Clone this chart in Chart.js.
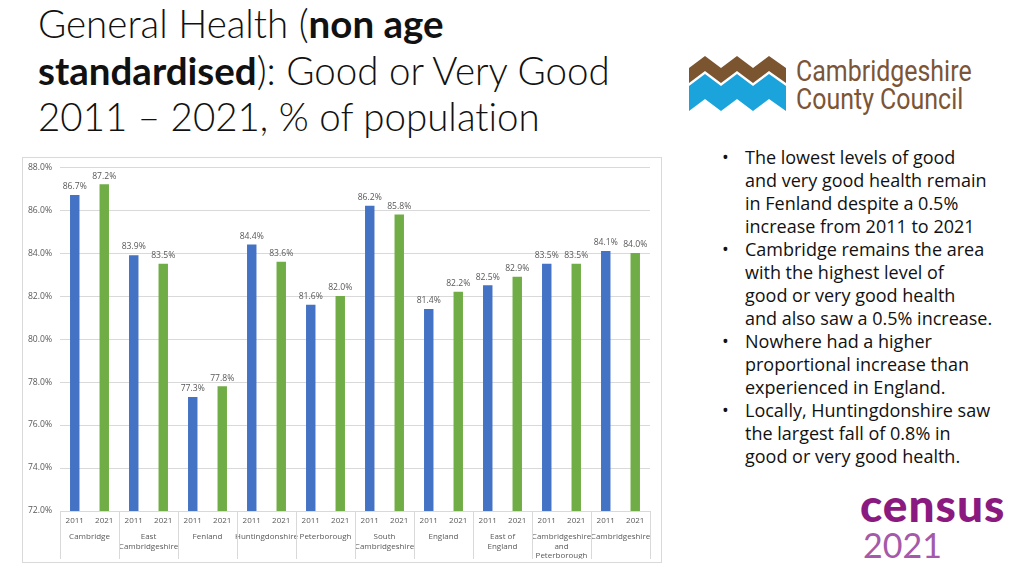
<!DOCTYPE html>
<html>
<head>
<meta charset="utf-8">
<script src="https://cdn.jsdelivr.net/npm/chart.js@4"></script>
<style>
  html, body { margin:0; padding:0; background:#fff; width:1024px; height:576px; overflow:hidden; }
  body { position:relative; font-family: Lato, "Open Sans", sans-serif; }
  #title { position:absolute; left:38px; top:0px; font-family: Lato, sans-serif; font-weight:300; font-size:38.5px; line-height:46.5px; color:#111; white-space:nowrap; font-variant-ligatures:none; }
  #title b { font-weight:700; }
  #chartBox { position:absolute; left:22px; top:157px; width:640px; height:406px; box-sizing:border-box; border:1px solid #d9d9d9; }
  #chartBox canvas { display:block; position:absolute; left:0; top:-4px; }
  #notes { position:absolute; left:722px; top:146px; margin:0; padding:0; list-style:none; font-family:"Open Sans", sans-serif; font-size:18px; line-height:23px; color:#111; }
  #notes li { position:relative; padding-left:23px; white-space:nowrap; }
  #notes li::before { content:"•"; position:absolute; left:0; top:0; }
  #logoText { position:absolute; left:796px; top:57px; font-family:Roboto, sans-serif; font-size:29px; line-height:28px; color:#7b5536; transform:scaleX(0.86); transform-origin:left top; white-space:nowrap; }
  #census { position:absolute; left:860px; top:482px; font-family:Lato, sans-serif; color:#8b1a80; }
  #census .c1 { font-size:46px; font-weight:900; line-height:46px; letter-spacing:1px; }
  #census .c2 { font-size:34px; font-weight:400; line-height:34px; color:#a45aa8; margin-left:3px; }
</style>
</head>
<body>
<div id="title">General Health (<b>non age</b><br><b>standardised</b>): Good or Very Good<br>2011 – 2021, % of population</div>

<svg style="position:absolute;left:0;top:0" width="1024" height="576">
  <polygon fill="#7b5430" points="689,68 705,56 721,68 737,56 753,68 769,56 786,68 786,83 769,71 753,83 737,71 721,83 705,71 689,83"/>
  <polygon fill="#1ba3dc" points="689,86 705,74 721,86 737,74 753,86 769,74 786,86 786,111 769,99 753,111 737,99 721,111 705,99 689,111"/>
</svg>
<div id="logoText">Cambridgeshire<br>County Council</div>

<div id="chartBox"><canvas id="c" width="638" height="408"></canvas></div>

<ul id="notes">
  <li>The lowest levels of good<br>and very good health remain<br>in Fenland despite a 0.5%<br>increase from 2011 to 2021</li>
  <li>Cambridge remains the area<br>with the highest level of<br>good or very good health<br>and also saw a 0.5% increase.</li>
  <li>Nowhere had a higher<br>proportional increase than<br>experienced in England.</li>
  <li>Locally, Huntingdonshire saw<br>the largest fall of 0.8% in<br>good or very good health.</li>
</ul>

<div id="census"><div class="c1">census</div><div class="c2">2021</div></div>

<script>
const regions = [
  "Cambridge",
  ["East", "Cambridgeshire"],
  "Fenland",
  "Huntingdonshire",
  "Peterborough",
  ["South", "Cambridgeshire"],
  "England",
  ["East of", "England"],
  ["Cambridgeshire", "and", "Peterborough"],
  "Cambridgeshire"
];
const years = ["2011", "2021"];
const values2011 = [86.7, 83.9, 77.3, 84.4, 81.6, 86.2, 81.4, 82.5, 83.5, 84.1];
const values2021 = [87.2, 83.5, 77.8, 83.6, 82.0, 85.8, 82.2, 82.9, 83.5, 84.0];
const yTicks = { min: 72, max: 88, step: 2 };

const yearLabels = [];
const data2011 = [];
const data2021 = [];
regions.forEach((r, i) => {
  yearLabels.push(years[0], years[1]);
  data2011.push(values2011[i], null);
  data2021.push(null, values2021[i]);
});

const GRID = '#d9d9d9';
const TXT = '#595959';
const FONT = { family: '"Open Sans", sans-serif', size: 8 };
const FONT_Y = { family: '"Open Sans", sans-serif', size: 8.6 };

const valueLabels = {
  id: 'valueLabels',
  afterDatasetsDraw(chart) {
    const ctx = chart.ctx;
    ctx.save();
    ctx.font = '8.6px "Open Sans", sans-serif';
    ctx.fillStyle = TXT;
    ctx.textAlign = 'center';
    ctx.textBaseline = 'bottom';
    chart.data.datasets.forEach((ds, di) => {
      const meta = chart.getDatasetMeta(di);
      meta.data.forEach((el, i) => {
        const v = ds.data[i];
        if (v === null || v === undefined) return;
        ctx.fillText(v.toFixed(1) + '%', el.x, el.y - 4);
      });
    });
    ctx.restore();
  }
};

const groupLines = {
  id: 'groupLines',
  afterDraw(chart) {
    const xs = chart.scales.x;
    const x2 = chart.scales.x2;
    const ctx = chart.ctx;
    const half = (xs.getPixelForTick(1) - xs.getPixelForTick(0)) / 2;
    ctx.save();
    ctx.strokeStyle = GRID;
    ctx.lineWidth = 1;
    for (let i = 0; i <= regions.length; i++) {
      let px;
      if (i < regions.length) px = xs.getPixelForTick(i * 2) - half;
      else px = xs.getPixelForTick(regions.length * 2 - 1) + half;
      px = Math.round(px) + 0.5;
      ctx.beginPath();
      ctx.moveTo(px, chart.chartArea.bottom);
      ctx.lineTo(px, x2.bottom);
      ctx.stroke();
    }
    ctx.restore();
  }
};

new Chart(document.getElementById('c'), {
  type: 'bar',
  data: {
    labels: yearLabels,
    datasets: [
      { label: '2011', data: data2011, backgroundColor: '#4472c4', skipNull: true, categoryPercentage: 0.4, barPercentage: 0.8 },
      { label: '2021', data: data2021, backgroundColor: '#70ad47', skipNull: true, categoryPercentage: 0.4, barPercentage: 0.8 }
    ]
  },
  options: {
    responsive: false,
    animation: false,
    devicePixelRatio: 1,
    layout: { padding: { left: 0, right: 11, top: 5, bottom: 3 } },
    plugins: { legend: { display: false }, tooltip: { enabled: false } },
    scales: {
      x: {
        position: 'bottom',
        grid: { display: false, drawTicks: false },
        border: { display: true, color: GRID },
        ticks: { color: TXT, font: FONT, padding: 5, maxRotation: 0, autoSkip: false },
        afterFit(s) { s.height = 18; }
      },
      x2: {
        type: 'category',
        position: 'bottom',
        labels: regions,
        offset: true,
        grid: { display: false, drawTicks: false },
        border: { display: false },
        ticks: { color: TXT, font: FONT, padding: 3, maxRotation: 0, autoSkip: false, lineHeight: 1.2 },
        afterFit(s) { s.height = 30; }
      },
      y: {
        min: yTicks.min, max: yTicks.max,
        grid: { color: GRID, drawTicks: false },
        border: { display: false },
        ticks: { stepSize: yTicks.step, color: TXT, font: FONT_Y, padding: 8, callback: v => v.toFixed(1) + '%' },
        afterFit(s) { s.width = 37; }
      }
    }
  },
  plugins: [valueLabels, groupLines]
});
</script>
</body>
</html>
